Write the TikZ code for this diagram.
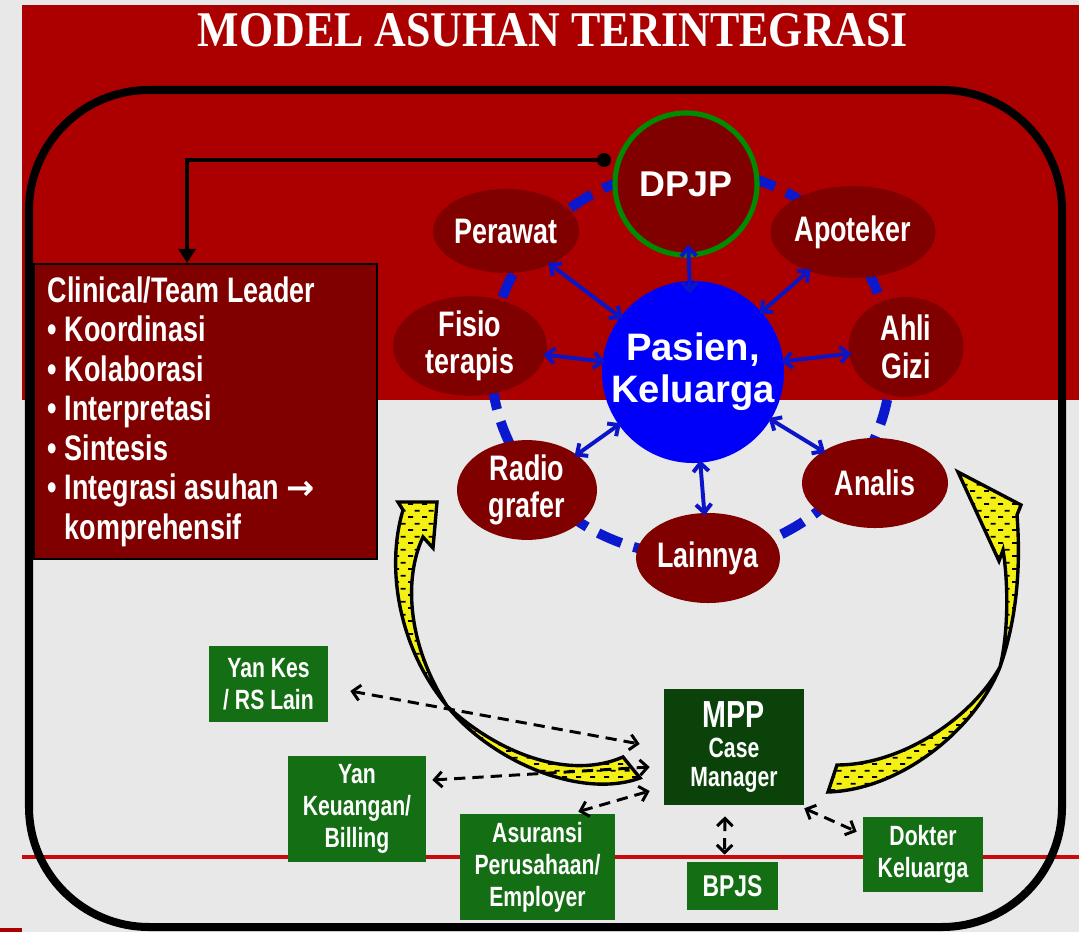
\documentclass[tikz,border=0pt]{standalone}
\usepackage{fontspec}
\setmainfont{Liberation Serif}
\newfontfamily\titlefont{Liberation Serif}[FakeStretch=0.88]
\newfontfamily\narrowfont{Liberation Sans}[FakeStretch=0.76]
\newfontfamily\arialfont{Liberation Sans}
\newfontfamily\symbolfont{DejaVu Sans}
\usepackage{tikz}
\usetikzlibrary{
  arrows.meta,
  shapes.geometric,
  chains,
  scopes,
  patterns
}
\definecolor{paper}{RGB}{232,232,232}
\definecolor{bandred}{RGB}{172,0,0}
\definecolor{linered}{RGB}{200,10,10}
\definecolor{nodered}{RGB}{128,0,0}
\definecolor{ringgreen}{RGB}{0,140,0}
\definecolor{ringblue}{RGB}{10,25,205}
\definecolor{arrowblue}{RGB}{10,20,200}
\definecolor{pureblue}{RGB}{0,0,250}
\definecolor{boxgreen}{RGB}{20,110,20}
\definecolor{mppgreen}{RGB}{10,66,10}
\definecolor{sweepyellow}{RGB}{245,240,20}

\pgfdeclarepatternformonly{yellowdash}{\pgfqpoint{0pt}{0pt}}{\pgfqpoint{10pt}{9pt}}{\pgfqpoint{10pt}{9pt}}{%
  \pgfsetlinewidth{1.2pt}%
  \pgfpathmoveto{\pgfqpoint{0.8pt}{2.2pt}}\pgfpathlineto{\pgfqpoint{4.6pt}{2.2pt}}%
  \pgfpathmoveto{\pgfqpoint{5.8pt}{6.7pt}}\pgfpathlineto{\pgfqpoint{9.6pt}{6.7pt}}%
  \pgfusepath{stroke}%
}

\begin{document}
\begin{tikzpicture}[
      x=0.025cm,y=-0.025cm,
      >={Straight Barb[length=6pt,width=11pt]},
      staff/.style={
         ellipse,
         inner sep=0pt,
         fill=nodered,
         text=white,
         align=center,
         font=\narrowfont\bfseries\fontsize{25.2pt}{26.6pt}\selectfont
      },
      outside/.style={
         rectangle,
         inner sep=0pt,
         fill=boxgreen,
         text=white,
         align=center,
         font=\narrowfont\bfseries\fontsize{19.8pt}{22.7pt}\selectfont
      },
      tip/.style={<->,draw=arrowblue,line width=2.8pt,shorten >=-2pt,shorten <=-2pt},
      dashtip/.style={<->,line width=2.1pt,dash pattern=on 8pt off 5pt,
         >={Straight Barb[length=5.5pt,width=11pt]}},
      ring/.style={draw=ringblue,line width=7pt,dash pattern=on 18pt off 9pt},
      sweep/.style={draw=black,line width=2.4pt,fill=sweepyellow,
         postaction={pattern=yellowdash,pattern color=black}},
      frame/.style={line width=5.7pt,rounded corners=3cm}
    ]
    \useasboundingbox (0,0) rectangle (1079,932);
    \fill[paper] (0,0) rectangle (1079,932);
    \fill[bandred] (22,5) rectangle (1079,400);
    \fill[bandred] (0,928) rectangle (22,932);
    \draw[linered,line width=2.2pt] (22,857) -- (1079,857);
    \draw[frame] (29,90) rectangle (1062,927);
    \node (title) at (553,30) [text=white,font=\titlefont\bfseries\fontsize{35.5pt}{38pt}\selectfont] {MODEL ASUHAN TERINTEGRASI};

    \draw[ring] (691,362) ellipse [x radius=200, y radius=193];

    \node (dpjp) at (686,184) [circle,minimum size=3.55cm,inner sep=0pt,fill=nodered,draw=ringgreen,line width=3.6pt,text=white,font=\arialfont\bfseries\fontsize{25.5pt}{28pt}\selectfont] {DPJP};
    \node (pasien) at (693,372) [circle,minimum size=4.55cm,inner sep=0pt,fill=pureblue,text=white,align=center,font=\arialfont\bfseries\fontsize{27.2pt}{29.8pt}\selectfont] {Pasien,\\Keluarga};
    \node (perawat) at (506,231) [staff,minimum width=3.2cm,minimum height=2.1cm] {Perawat};
    \node (apoteker) at (853,232) [staff,minimum width=3.2cm,minimum height=2.3cm] {Apoteker};
    \node (fisio) at (470,346) [staff,minimum width=3.85cm,minimum height=2.15cm] {Fisio\\terapis};
    \node (ahli) at (906,347) [staff,minimum width=2.875cm,minimum height=2.5cm] {Ahli\\Gizi};
    \node (radio) at (527,490) [staff,minimum width=3.5cm,minimum height=2.25cm] {Radio\\grafer};
    \node (analis) at (875,483) [staff,minimum width=3.65cm,minimum height=2.25cm] {Analis};
    \node (lainnya) at (708,558) [staff,minimum width=2.85cm,minimum height=2.25cm] {Lainnya};

    \node (leader) at (33,263) [anchor=north west,rectangle,draw=black,line width=1.4pt,fill=nodered,text=white,inner xsep=0.35cm,inner ysep=0pt,text width=7.875cm,minimum height=7.375cm,align=flush left,font=\narrowfont\bfseries\fontsize{25.2pt}{28.1pt}\selectfont] {Clinical/Team Leader\\• Koordinasi\\• Kolaborasi\\• Interpretasi\\• Sintesis\\• Integrasi asuhan {\symbolfont\fontsize{24pt}{28pt}\selectfont →}\\\hphantom{• }komprehensif};
    \node (dot) at (604,160) [circle,fill=black,inner sep=0pt,minimum size=0.35cm] {};
    \draw[line width=2.8pt,-{Triangle[length=10pt,width=12pt]}] (dot.center) -| ([xshift=-0.46cm]leader.north);

    \node (yankes) at (268.5,684) [outside,minimum width=2.975cm,minimum height=1.875cm] {Yan Kes\\/ RS Lain};
    \node (keuangan) at (357,809) [outside,minimum width=3.45cm,minimum height=2.65cm] {Yan\\Keuangan/\\Billing};
    \node (asuransi) at (537.5,867) [outside,minimum width=3.875cm,minimum height=2.65cm] {Asuransi\\Perusahaan/\\Employer};
    \node (mpp) at (734,747) [outside,fill=mppgreen,minimum width=3.5cm,minimum height=2.9cm,font=\narrowfont\bfseries\fontsize{19.8pt}{21.3pt}\selectfont] {{\fontsize{26.8pt}{26pt}\selectfont MPP}\\Case\\Manager};
    \node (bpjs) at (732.5,886) [outside,minimum width=2.275cm,minimum height=1.2cm,font=\narrowfont\bfseries\fontsize{21.4pt}{22pt}\selectfont] {BPJS};
    \node (dokter) at (923,854.5) [outside,minimum width=3cm,minimum height=1.875cm] {Dokter\\Keluarga};

  { [start chain]
       \chainin (pasien);
       \chainin (dpjp)    [join=by {tip,shorten <=-9pt,shorten >=-9pt}];
  }
  { [start chain]
       \chainin (pasien);
       \chainin (perawat)    [join=by tip];
  }
  { [start chain]
       \chainin (pasien);
       \chainin (apoteker)    [join=by tip];
  }
  { [start chain]
       \chainin (pasien);
       \chainin (fisio)    [join=by tip];
  }
  { [start chain]
       \chainin (pasien);
       \chainin (ahli)    [join=by tip];
  }
  { [start chain]
       \chainin (pasien);
       \chainin (radio)    [join=by tip];
  }
  { [start chain]
       \chainin (pasien);
       \chainin (analis)    [join=by tip];
  }
  { [start chain]
       \chainin (pasien);
       \chainin (lainnya)    [join=by tip];
  }

    \path[sweep] (398,502) -- (437,502) -- (433,548) -- (423,537)
       .. controls (405,575) and (405,640) .. (447,706)
       .. controls (500,755) and (570,780) .. (623,757)
       -- (640,778)
       .. controls (580,800) and (490,760) .. (447,706)
       .. controls (400,650) and (385,570) .. (403,510) -- cycle;
    \path[sweep] (958,472) -- (1021,505) -- (1017,515)
       .. controls (1022,580) and (1013,630) .. (1000,667)
       .. controls (975,730) and (900,790) .. (828,792)
       -- (837,765)
       .. controls (900,765) and (970,720) .. (1000,667)
       .. controls (1009,630) and (1008,580) .. (1003,550)
       -- (999,561) -- cycle;

    \draw[dashtip] ([shift={(22,7)}]yankes.east) -- ([shift={(-24,-3)}]mpp.west);
    \draw[dashtip] ([shift={(6,-29)}]keuangan.east) -- ([shift={(-14,20)}]mpp.west);
    \draw[dashtip] ([shift={(-37,-2)}]asuransi.north east) -- ([shift={(-14,44)}]mpp.west);
    \draw[dashtip] ([shift={(-9,11)}]mpp.south) -- ([shift={(-8,-7)}]bpjs.north);
    \draw[dashtip] ([shift={(0,3)}]mpp.south east) -- ([shift={(-6,15)}]dokter.north west);
\end{tikzpicture}
\end{document}
